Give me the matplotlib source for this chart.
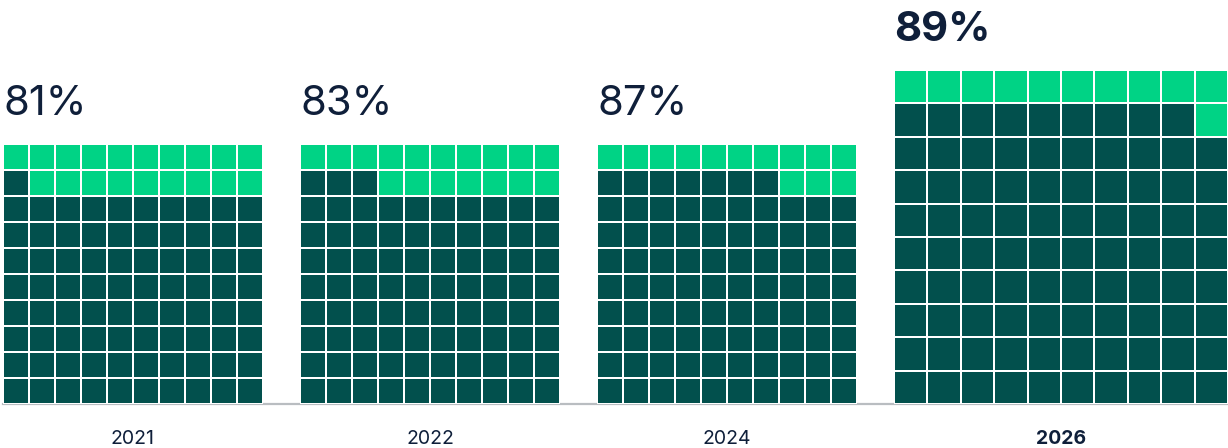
import numpy as np
import matplotlib.pyplot as plt
from matplotlib.colors import ListedColormap

years = ["2021", "2022", "2024", "2026"]
share = [81, 83, 87, 89]
highlight = [False, False, False, True]

dark = "#02504d"
green = "#00d385"
text_col = "#0f1f3a"
base_col = "#b9bdc1"

W, H = 1228, 448
# pixel layout of each waffle: left, size
lefts = [3, 300, 597, 894]
sizes = [260, 260, 260, 334]
base_y = 404

plt.rcParams['font.family'] = ['Inter', 'DejaVu Sans']
fig = plt.figure(figsize=(W / 100, H / 100), dpi=100)

cmap = ListedColormap([green, dark])

for i in range(len(years)):
    ax = fig.add_axes([lefts[i] / W, (H - base_y) / H, sizes[i] / W, sizes[i] / H])
    k = np.arange(100).reshape(10, 10)  # row 0 at bottom, filled left to right
    cells = (k < share[i]).astype(int)
    ax.pcolormesh(np.arange(11), np.arange(11), cells, cmap=cmap, vmin=0, vmax=1,
                  edgecolors="white", linewidth=1.2)
    ax.set_xlim(0, 10)
    ax.set_ylim(0, 10)
    ax.axis("off")
    wt = "bold" if highlight[i] else "normal"
    ax.text(0.01, 10 + 10 * 29 / sizes[i], f"{share[i]}%", ha="left", va="baseline",
            fontsize=30, color=text_col, fontweight=wt)
    ax.text(5, -10 * 35 / sizes[i], years[i], ha="center", va="center",
            fontsize=14, color=text_col, fontweight=wt, clip_on=False)

line_ax = fig.add_axes([0, 0, 1, 1], zorder=-1)
line_ax.set_xlim(0, W)
line_ax.set_ylim(H, 0)
line_ax.axis("off")
line_ax.plot([3, W], [base_y + 0.5, base_y + 0.5], color=base_col, linewidth=1.6)

fig.savefig("out.png", dpi=100)
